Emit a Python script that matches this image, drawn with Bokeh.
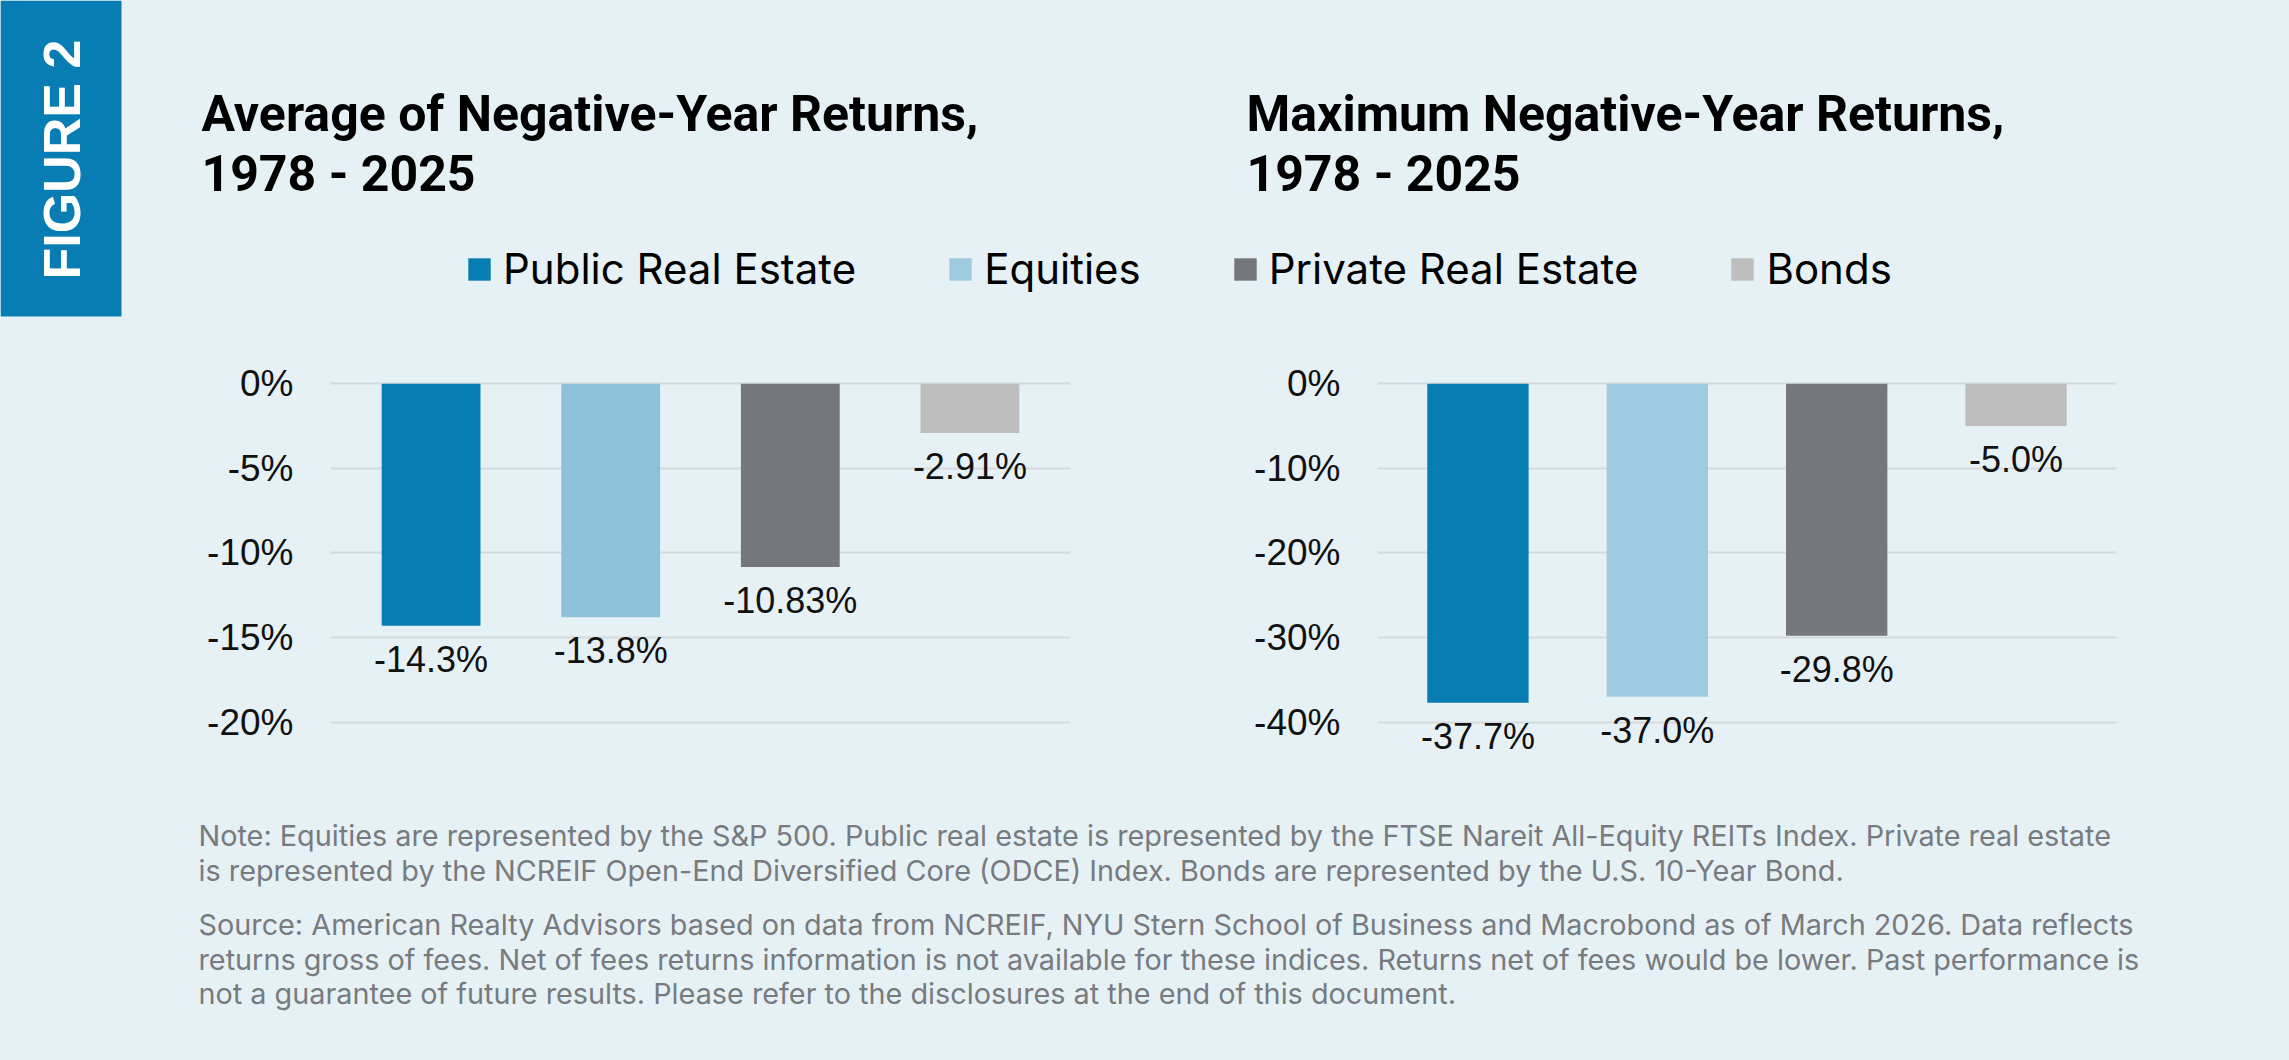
import math
from bokeh.plotting import figure
from bokeh.models import (Range1d, FactorRange, FixedTicker, ColumnDataSource,
                          LabelSet, Label, Legend, LegendItem, BoxAnnotation)
from bokeh.layouts import column, row
from bokeh.embed import file_html
from bokeh.resources import INLINE
from bokeh.core.properties import value

# ---------------- data ----------------
categories = ["Public Real Estate", "Equities", "Private Real Estate", "Bonds"]

avg_returns = [-14.3, -13.8, -10.83, -2.91]
avg_labels = ["-14.3%", "-13.8%", "-10.83%", "-2.91%"]
avg_ticks = [0, -5, -10, -15, -20]
avg_tick_labels = ["0%", "-5%", "-10%", "-15%", "-20%"]

max_returns = [-37.7, -37.0, -29.8, -5.0]
max_labels = ["-37.7%", "-37.0%", "-29.8%", "-5.0%"]
max_ticks = [0, -10, -20, -30, -40]
max_tick_labels = ["0%", "-10%", "-20%", "-30%", "-40%"]

titles = ["Average of Negative-Year Returns,", "Maximum Negative-Year Returns,"]
subtitle = "1978 - 2025"
figure_tag = "FIGURE 2"

note_lines = [
    "Note: Equities are represented by the S&P 500. Public real estate is represented by the FTSE Nareit All-Equity REITs Index. Private real estate",
    "is represented by the NCREIF Open-End Diversified Core (ODCE) Index. Bonds are represented by the U.S. 10-Year Bond.",
]
source_lines = [
    "Source: American Realty Advisors based on data from NCREIF, NYU Stern School of Business and Macrobond as of March 2026. Data reflects",
    "returns gross of fees. Net of fees returns information is not available for these indices. Returns net of fees would be lower. Past performance is",
    "not a guarantee of future results. Please refer to the disclosures at the end of this document.",
]

# ---------------- styles ----------------
BG = "#E6F1F6"
BLUE = "#087DB4"
colors_avg = ["#077DB3", "#8DC1DA", "#74777B", "#BEBEBE"]
colors_max = ["#077DB3", "#9ECBE0", "#74777B", "#BEBEBE"]
CHART_FONT = "Liberation Sans"
TITLE_FONT = "Roboto"
TEXT_FONT = "Inter"

W = 2289
HDR_H = 330
CH_H = 460
NOTE_H = 270


def base_fig(w, h, yr):
    p = figure(width=w, height=h, x_range=Range1d(0, w), y_range=yr,
               x_axis_type=None, y_axis_type=None, output_backend="svg",
               toolbar_location=None, min_border=0)
    p.outline_line_color = None
    p.background_fill_color = BG
    p.border_fill_color = BG
    return p


# ---------------- header ----------------
hdr = base_fig(W, HDR_H, Range1d(HDR_H, 0))
hdr.add_layout(BoxAnnotation(left=0, right=121, top=0, bottom=316,
                             fill_color=BLUE, fill_alpha=1, line_color=None))
hdr.add_layout(Label(x=61, y=159, text=figure_tag, angle=math.pi / 2,
                     text_align="center", text_baseline="middle",
                     text_font="Liberation Sans", text_font_style="bold",
                     text_font_size="52px", text_color="white"))
for tx, t in zip([201, 1246], titles):
    hdr.add_layout(Label(x=tx, y=113, text=t, text_baseline="alphabetic",
                         text_font=TITLE_FONT, text_font_style="bold",
                         text_font_size="50px", text_color="#000000"))
    hdr.add_layout(Label(x=tx, y=173, text=subtitle, text_baseline="alphabetic",
                         text_font=TITLE_FONT, text_font_style="bold",
                         text_font_size="50px", text_color="#000000"))

items = []
for cat, col in zip(categories, colors_max):
    r = hdr.vbar(x=[float("nan")], top=[float("nan")], width=1,
                 fill_color=col, line_color=None)
    items.append(LegendItem(label=cat, renderers=[r]))
leg = Legend(items=items, orientation="horizontal", location=(465, 36),
             padding=0, margin=0, spacing=90, label_standoff=10,
             glyph_width=28, glyph_height=28,
             label_text_font=TEXT_FONT, label_text_font_size="42px",
             label_text_color="#000000", border_line_color=None,
             background_fill_alpha=0)
hdr.add_layout(leg)


# ---------------- charts ----------------
def bar_chart(values, labels, colors, ticks, tick_labels, w, b_left, b_right, bw):
    span = max(ticks) - min(ticks)
    yr = Range1d(min(ticks) - 0.1725 * span, max(ticks) + 0.128 * span)
    p = figure(width=w, height=CH_H,
               x_range=FactorRange(*categories, range_padding=0.03), y_range=yr,
               output_backend="svg", toolbar_location=None,
               min_border_left=b_left, min_border_right=b_right,
               min_border_top=10, min_border_bottom=10)
    p.outline_line_color = None
    p.background_fill_color = BG
    p.border_fill_color = BG
    src = ColumnDataSource(dict(cat=categories, val=values, lab=labels, color=colors))
    p.vbar(x="cat", top="val", bottom=0, width=bw, fill_color="color",
           line_color=None, source=src)
    p.add_layout(LabelSet(x="cat", y="val", text="lab", source=src,
                          text_align="center", text_baseline="top", y_offset=-13,
                          text_font=value(CHART_FONT), text_font_size=value("36px"),
                          text_color=value("#111111")))
    p.xaxis.visible = False
    p.xgrid.visible = False
    p.ygrid.grid_line_color = "#D6DADC"
    p.ygrid.grid_line_width = 2
    yax = p.yaxis[0]
    yax.ticker = FixedTicker(ticks=ticks)
    yax.major_label_overrides = {t: l for t, l in zip(ticks, tick_labels)}
    yax.axis_line_color = None
    yax.major_tick_line_color = None
    yax.minor_tick_line_color = None
    yax.major_tick_out = 0
    yax.minor_tick_out = 0
    yax.major_label_standoff = 37
    yax.major_label_text_font = CHART_FONT
    yax.major_label_text_font_size = "37px"
    yax.major_label_text_color = "#111111"
    return p


c1 = bar_chart(avg_returns, avg_labels, colors_avg, avg_ticks, avg_tick_labels,
               1150, 330, 80, 0.55)
c2 = bar_chart(max_returns, max_labels, colors_max, max_ticks, max_tick_labels,
               1139, 227, 173, 0.565)

# ---------------- notes ----------------
notes = base_fig(W, NOTE_H, Range1d(NOTE_H, 0))
for i, t in enumerate(note_lines):
    notes.add_layout(Label(x=198, y=45 + i * 35, text=t, text_baseline="alphabetic",
                           text_font=TEXT_FONT, text_font_size="28.8px",
                           text_color="#777B80"))
for i, t in enumerate(source_lines):
    notes.add_layout(Label(x=198, y=134 + i * 34.5, text=t, text_baseline="alphabetic",
                           text_font=TEXT_FONT, text_font_size="28.8px",
                           text_color="#777B80"))

layout = column(hdr, row(c1, c2, spacing=0), notes, spacing=0)
layout.styles = {"background-color": BG}

open("out.html", "w").write(file_html(layout, INLINE))
